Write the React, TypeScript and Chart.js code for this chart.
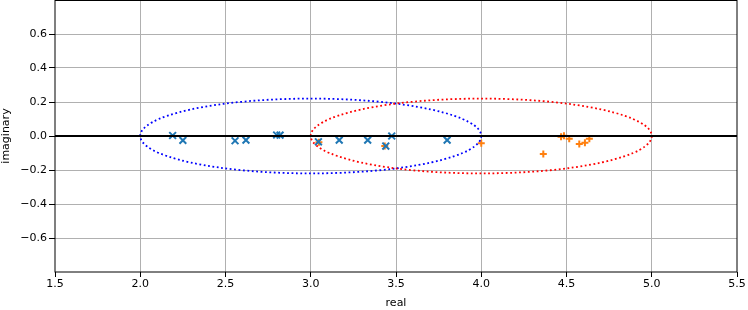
import React, { useEffect, useRef } from "react";
import { Chart, registerables } from "chart.js";

Chart.register(...registerables);

// Data
const blueReal = [2.19, 2.25, 2.556, 2.62, 2.80, 2.82, 3.045, 3.167, 3.334, 3.44, 3.475, 3.80];
const blueImag = [0.003, -0.026, -0.028, -0.024, 0.006, 0.005, -0.034, -0.024, -0.024, -0.059, 0.0, -0.024];
const orangeReal = [3.048, 3.434, 4.0, 4.364, 4.468, 4.485, 4.516, 4.575, 4.608, 4.634];
const orangeImag = [-0.037, -0.059, -0.043, -0.106, -0.004, 0.002, -0.016, -0.047, -0.039, -0.016];

// Ellipses: [centerReal, centerImag, radiusReal, radiusImag]
const ellipseBlue = [3.0, 0.0, 1.0, 0.22];
const ellipseRed = [4.0, 0.0, 1.0, 0.22];
const ellipseColors = ["#0000ff", "#ff0000"];

const xTickMin = 1.5;
const xTickMax = 5.5;
const xTickStep = 0.5;
const yTickMin = -0.8;
const yTickMax = 0.8;
const yTickStep = 0.2;

const FONT = "'DejaVu Sans', sans-serif";
const FONT_SIZE = 11;

const overlayPlugin = {
  id: "overlay",
  afterDatasetsDraw(chart: any) {
    const { ctx, chartArea, scales } = chart;
    const xs = scales.x;
    const ys = scales.y;
    ctx.save();
    ctx.beginPath();
    ctx.rect(chartArea.left, chartArea.top, chartArea.right - chartArea.left, chartArea.bottom - chartArea.top);
    ctx.clip();
    [ellipseBlue, ellipseRed].forEach((e, i) => {
      const cx = xs.getPixelForValue(e[0]);
      const cy = ys.getPixelForValue(e[1]);
      const rx = Math.abs(xs.getPixelForValue(e[0] + e[2]) - cx);
      const ry = Math.abs(ys.getPixelForValue(e[1] + e[3]) - cy);
      ctx.beginPath();
      ctx.ellipse(cx, cy, rx, ry, 0, 0, Math.PI * 2);
      ctx.strokeStyle = ellipseColors[i];
      ctx.lineWidth = 1.8;
      ctx.setLineDash([1.8, 2.6]);
      ctx.lineCap = "butt";
      ctx.stroke();
    });
    ctx.setLineDash([]);
    const y0 = ys.getPixelForValue(0);
    ctx.beginPath();
    ctx.moveTo(chartArea.left, y0);
    ctx.lineTo(chartArea.right, y0);
    ctx.strokeStyle = "#000";
    ctx.lineWidth = 2;
    ctx.stroke();
    ctx.restore();
    ctx.save();
    ctx.strokeStyle = "#000";
    ctx.lineWidth = 1;
    ctx.strokeRect(chartArea.left, chartArea.top + 0.5, chartArea.right - chartArea.left, chartArea.bottom - chartArea.top - 0.5);
    ctx.restore();
  },
};

const isEdge = (v: number, lo: number, hi: number) => Math.abs(v - lo) < 1e-6 || Math.abs(v - hi) < 1e-6;

export default function App() {
  const ref = useRef<HTMLCanvasElement>(null);
  useEffect(() => {
    document.body.style.margin = "0";
    const canvas = ref.current!;
    const chart = new Chart(canvas, {
      type: "scatter",
      data: {
        datasets: [
          {
            data: blueReal.map((x, i) => ({ x, y: blueImag[i] })),
            pointStyle: "crossRot",
            radius: 4.8,
            borderWidth: 2,
            borderColor: "#1f77b4",
            backgroundColor: "#1f77b4",
          },
          {
            data: orangeReal.map((x, i) => ({ x, y: orangeImag[i] })),
            pointStyle: "cross",
            radius: 3.5,
            borderWidth: 2,
            borderColor: "#ff7f0e",
            backgroundColor: "#ff7f0e",
          },
        ],
      },
      options: {
        responsive: false,
        animation: false,
        devicePixelRatio: 1,
        layout: { autoPadding: false, padding: { left: 0, right: 11, top: 0, bottom: 0 } },
        plugins: { legend: { display: false }, tooltip: { enabled: false } },
        scales: {
          x: {
            type: "linear",
            min: xTickMin,
            max: xTickMax,
            afterFit: (s: any) => { s.height = 38; s.paddingLeft = 0; s.paddingRight = 0; },
            ticks: {
              stepSize: xTickStep,
              color: "#000",
              padding: 1,
              font: { family: FONT, size: FONT_SIZE },
              callback: (v: any) => Number(v).toFixed(1),
            },
            grid: {
              color: (c: any) => (c.tick && isEdge(c.tick.value, xTickMin, xTickMax) ? "rgba(0,0,0,0)" : "#b0b0b0"),
              tickColor: "#000",
              tickLength: 5,
              lineWidth: 1,
            },
            border: { display: false },
            title: {
              display: true,
              text: "real",
              color: "#000",
              font: { family: FONT, size: FONT_SIZE },
              padding: { top: 0, bottom: 0 },
            },
          },
          y: {
            type: "linear",
            min: yTickMin,
            max: yTickMax,
            afterFit: (s: any) => { s.width = 55; s.paddingTop = 0; s.paddingBottom = 0; },
            ticks: {
              stepSize: yTickStep,
              color: "#000",
              padding: 2,
              font: { family: FONT, size: FONT_SIZE },
              callback: (v: any) => {
                const n = Number(v);
                if (isEdge(n, yTickMin, yTickMax)) return "";
                const s = (Math.abs(n) < 1e-9 ? 0 : n).toFixed(1);
                return s.replace("-", "\u2212");
              },
            },
            grid: {
              color: (c: any) => (c.tick && isEdge(c.tick.value, yTickMin, yTickMax) ? "rgba(0,0,0,0)" : "#b0b0b0"),
              tickColor: (c: any) => (c.tick && isEdge(c.tick.value, yTickMin, yTickMax) ? "rgba(0,0,0,0)" : "#000"),
              tickLength: 6,
              lineWidth: 1,
            },
            border: { display: false },
            title: {
              display: true,
              text: "imaginary",
              color: "#000",
              font: { family: FONT, size: FONT_SIZE },
              padding: { top: 0, bottom: 0 },
            },
          },
        },
      },
      plugins: [overlayPlugin],
    } as any);
    return () => chart.destroy();
  }, []);
  return <canvas ref={ref} width={748} height={310} style={{ display: "block" }} />;
}
